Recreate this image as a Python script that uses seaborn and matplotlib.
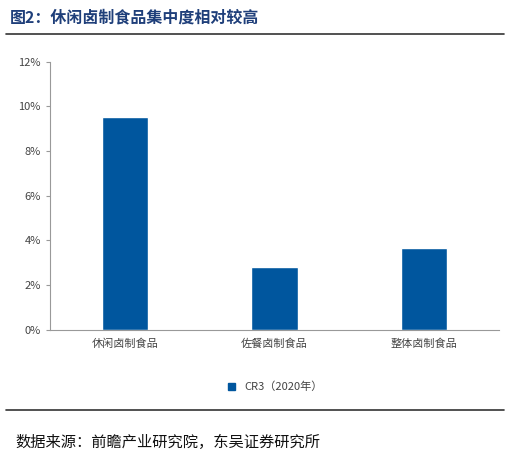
import matplotlib
matplotlib.use('Agg')
import matplotlib.pyplot as plt
import seaborn as sns
import pandas as pd
from matplotlib.lines import Line2D
from matplotlib.patches import Patch

categories = ['休闲卤制食品', '佐餐卤制食品', '整体卤制食品']
cr3_values = [9.55, 2.8, 3.65]
yticks = [0, 2, 4, 6, 8, 10, 12]
series_name = 'CR3（2020年）'

sns.set_style('white')
plt.rcParams['font.family'] = ['Noto Sans CJK SC', 'DejaVu Sans']

df = pd.DataFrame({'cat': categories, 'val': cr3_values})

fig = plt.figure(figsize=(5.10, 4.58), dpi=100)
ax = fig.add_axes([0.098, 0.28, 0.88, 0.585])
sns.barplot(data=df, x='cat', y='val', color='#00569e', width=0.31, saturation=1, ax=ax)
ax.set_ylim(0, 12)
ax.set_yticks(yticks)
ax.set_yticklabels([f'{t}%' for t in yticks], fontsize=8, color='#444444')
ax.tick_params(axis='x', labelsize=8, colors='#444444', length=0, pad=6)
ax.tick_params(axis='y', length=3, color='#999999', left=True)
ax.set_xlabel('')
ax.set_ylabel('')
for s in ['top', 'right']:
    ax.spines[s].set_visible(False)
for s in ['left', 'bottom']:
    ax.spines[s].set_color('#999999')
    ax.spines[s].set_linewidth(0.8)

fig.legend(handles=[Patch(color='#00569e', label=series_name)], loc='center',
           bbox_to_anchor=(0.54, 0.155), frameon=False, fontsize=8,
           handlelength=0.6, handleheight=0.6, labelcolor='#444444')

fig.text(0.02, 0.962, '图2：休闲卤制食品集中度相对较高', fontsize=11.5, fontweight='bold',
         color='#1f3f7a', va='center')
fig.add_artist(Line2D([0.012, 0.988], [0.925, 0.925], color='#333333', lw=1.2))
fig.add_artist(Line2D([0.012, 0.988], [0.105, 0.105], color='#333333', lw=1.2))
fig.text(0.03, 0.035, '数据来源：前瞻产业研究院，东吴证券研究所', fontsize=11, color='#111111', va='center')

fig.savefig('out.png', dpi=100)
